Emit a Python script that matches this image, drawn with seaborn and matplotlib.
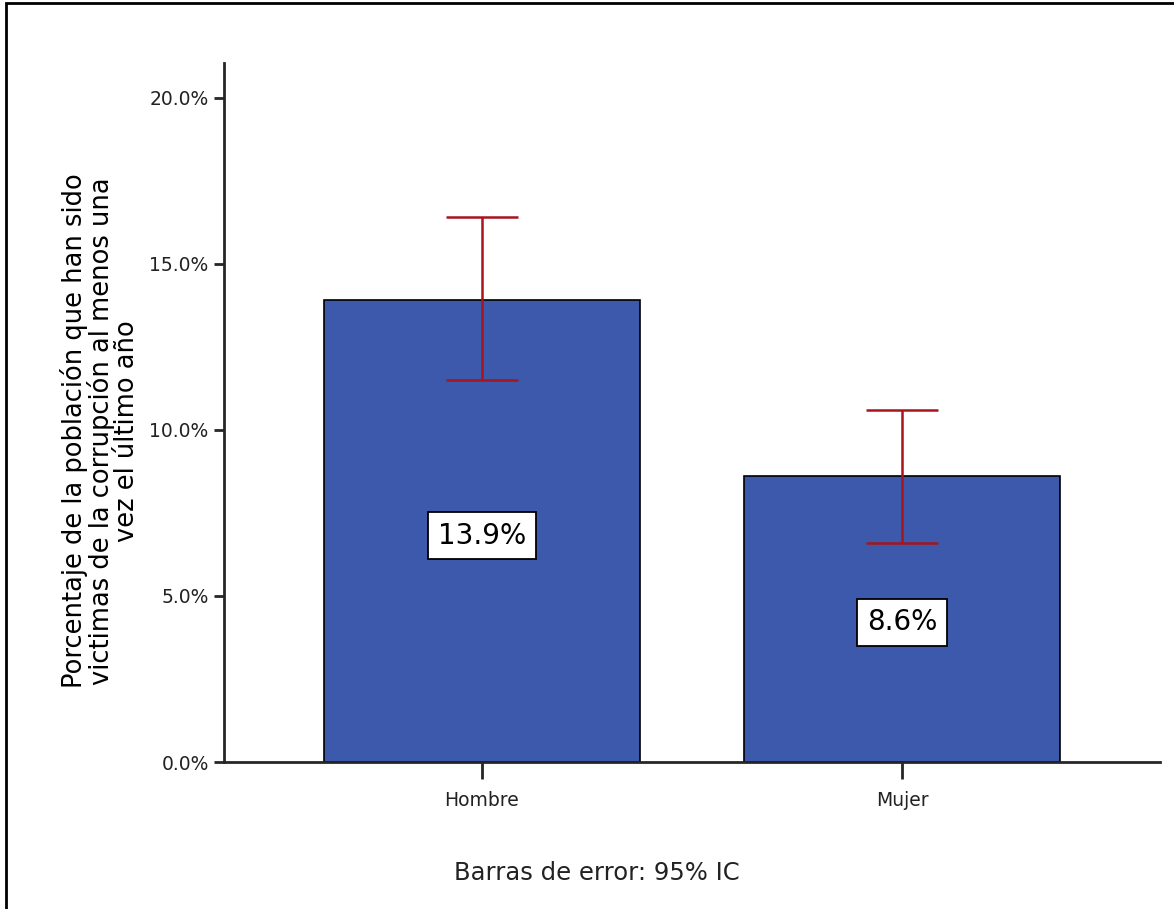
import matplotlib
matplotlib.use("Agg")
import matplotlib.pyplot as plt
import seaborn as sns
import pandas as pd
from matplotlib.patches import Rectangle

# data
sexo = ["Hombre", "Mujer"]
porcentaje = [13.9, 8.6]
ic_bajo = [11.5, 6.6]
ic_alto = [16.4, 10.6]

sns.set_style("white")
plt.rcParams['font.family'] = 'sans-serif'
plt.rcParams['font.sans-serif'] = ['DejaVu Sans']

df = pd.DataFrame({"sexo": sexo, "porcentaje": porcentaje})

fig = plt.figure(figsize=(11.74, 9.09), dpi=100)
ax = fig.add_axes([224/1174, 1-762/909, (1160-224)/1174, (762-63)/909])

sns.barplot(data=df, x="sexo", y="porcentaje", color="#3D59AB", saturation=1,
            width=0.752, edgecolor="black", linewidth=1.2, errorbar=None, ax=ax)

# error bars (95% CI)
err_lo = [p - l for p, l in zip(porcentaje, ic_bajo)]
err_hi = [h - p for p, h in zip(porcentaje, ic_alto)]
ax.errorbar(range(len(sexo)), porcentaje, yerr=[err_lo, err_hi], fmt="none",
            ecolor="#A8141C", elinewidth=1.8, capsize=26, capthick=1.8, zorder=5)

# value labels in boxes
for i, v in enumerate(porcentaje):
    ax.text(i, v*0.49, "%.1f%%" % v, ha="center", va="center", fontsize=20,
            color="black",
            bbox=dict(boxstyle="square,pad=0.34", fc="white", ec="black", lw=1.3),
            zorder=6)

ax.set_ylim(0, 21.05)
ax.set_xlim(-0.614, 1.614)
ax.set_yticks([0, 5, 10, 15, 20])
ax.set_yticklabels(["0.0%", "5.0%", "10.0%", "15.0%", "20.0%"])
ax.tick_params(axis="y", direction="out", length=7, width=2, labelsize=13.5,
               left=True, pad=4)
ax.tick_params(axis="x", direction="out", length=12, width=2, labelsize=13.5,
               bottom=True, pad=9)
for t in ax.get_xticklabels() + ax.get_yticklabels():
    t.set_color("#222222")

sns.despine(ax=ax)
ax.spines["left"].set_linewidth(2)
ax.spines["bottom"].set_linewidth(2)

ax.set_xlabel("")
ax.set_ylabel("")
fig.text(100/1174, 1-431/909,
         "Porcentaje de la población que han sido\nvictimas de la corrupción al menos una\nvez el último año",
         rotation=90, ha="center", va="center", multialignment="center",
         fontsize=18.5, linespacing=0.95, color="black")

fig.text(597/1174, 1-873/909, "Barras de error: 95% IC", ha="center", va="center",
         fontsize=17.5, color="#222222")

# outer frame
fig.patches.append(Rectangle((6/1174, -0.1), 1.2, 1-3/909+0.1, transform=fig.transFigure,
                             fill=False, ec="black", lw=2))

fig.savefig("out.png", dpi=100)
